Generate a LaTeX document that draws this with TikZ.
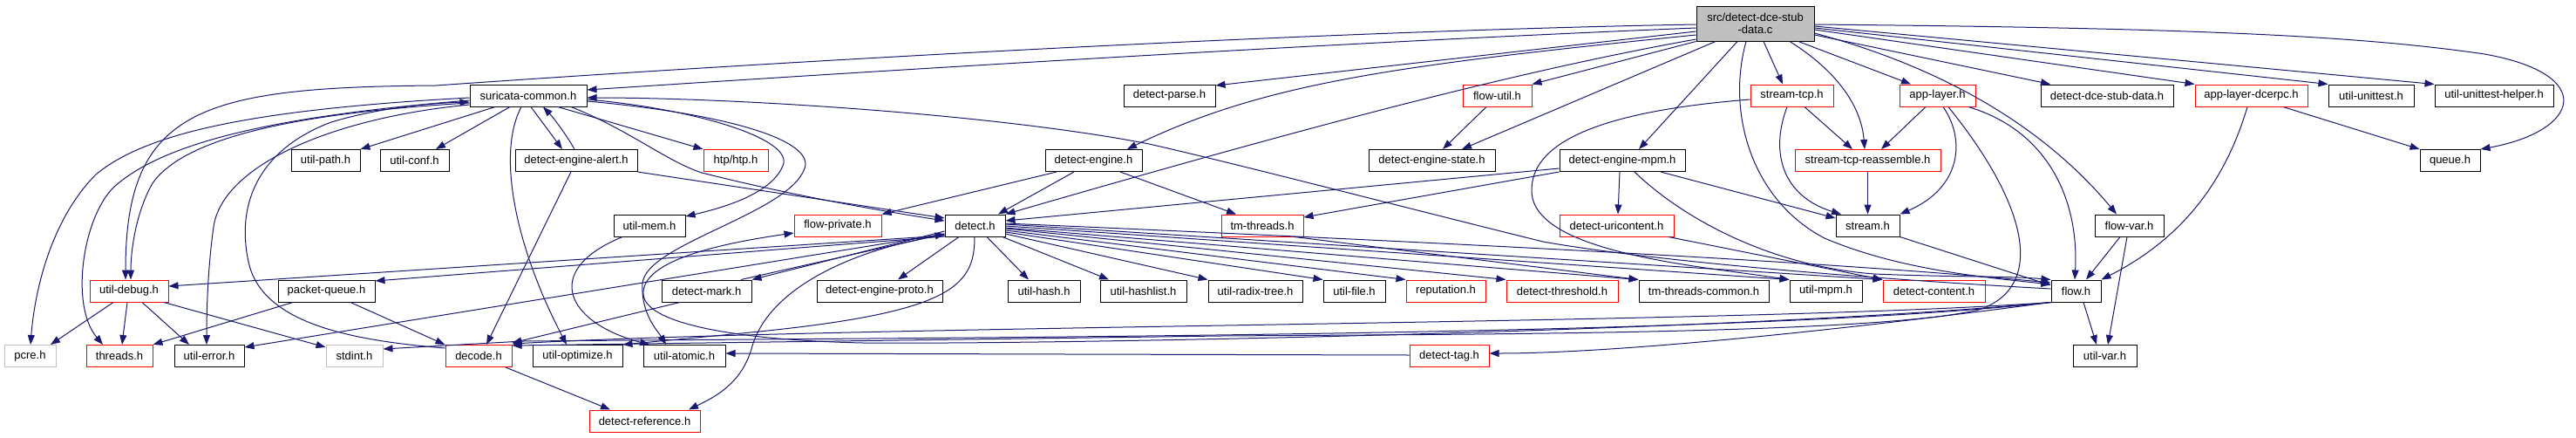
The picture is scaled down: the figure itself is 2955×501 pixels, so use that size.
\documentclass[tikz,border=0pt]{standalone}
\usepackage{fontspec}
\setmainfont{Liberation Sans}
\usetikzlibrary{arrows.meta}
\definecolor{edgec}{HTML}{191970}
\definecolor{gry}{HTML}{BFBFBF}
\newcommand\nodefont{\fontsize{13}{14.5}\selectfont}
\begin{document}
\begin{tikzpicture}[x=1pt,y=-1pt,
  nd/.style={draw=black, line width=1pt, fill=white, minimum height=25pt, inner sep=0pt, font=\nodefont},
  rd/.style={nd, draw=red},
  gy/.style={nd, draw=gry},
  rootnd/.style={nd, fill=gry, minimum height=40pt, align=center},
  e/.style={draw=edgec, line width=1pt, -{Triangle[length=11pt,width=8pt]}}]
\useasboundingbox[fill=white] (0,0) rectangle (2955,501);
% row 0
\node[rootnd, minimum width=135pt] (R) at (2013.5,27) {src/detect-dce-stub\\-data.c};
% row 1
\node[nd, minimum width=134pt] (SC) at (606,109.5) {suricata-common.h};
\node[nd, minimum width=105pt] (DP) at (1341.5,109.5) {detect-parse.h};
\node[rd, minimum width=79pt] (FU) at (1717.5,109.5) {flow-util.h};
\node[rd, minimum width=95pt] (ST) at (2055.5,109.5) {stream-tcp.h};
\node[rd, minimum width=87pt] (AL) at (2222.5,109.5) {app-layer.h};
\node[nd, minimum width=152pt] (DDS) at (2417,109.5) {detect-dce-stub-data.h};
\node[rd, minimum width=129pt] (ALD) at (2582.5,109.5) {app-layer-dcerpc.h};
\node[nd, minimum width=98pt] (UU) at (2720,109.5) {util-unittest.h};
\node[nd, minimum width=136pt] (UUH) at (2861,109.5) {util-unittest-helper.h};
% row 2
\node[nd, minimum width=79pt] (UP) at (373.5,184) {util-path.h};
\node[nd, minimum width=79pt] (UC) at (475.5,184) {util-conf.h};
\node[nd, minimum width=140pt] (DEA) at (661,184) {detect-engine-alert.h};
\node[rd, minimum width=74pt] (HTP) at (844,184) {htp/htp.h};
\node[nd, minimum width=111pt] (DE) at (1254.5,184) {detect-engine.h};
\node[nd, minimum width=145pt] (DES) at (1642.5,184) {detect-engine-state.h};
\node[nd, minimum width=144pt] (DEM) at (1861,184) {detect-engine-mpm.h};
\node[rd, minimum width=167pt] (STR) at (2142.5,184) {stream-tcp-reassemble.h};
\node[nd, minimum width=69pt] (Q) at (2810.5,184) {queue.h};
% row 3
\node[nd, minimum width=82pt] (UM) at (745,258.5) {util-mem.h};
\node[rd, minimum width=100pt] (FP) at (961,258.5) {flow-private.h};
\node[nd, minimum width=69pt] (D) at (1118.5,258.5) {detect.h};
\node[rd, minimum width=94pt] (TM) at (1448,258.5) {tm-threads.h};
\node[rd, minimum width=131pt] (DU) at (1854.5,258.5) {detect-uricontent.h};
\node[nd, minimum width=73pt] (S) at (2142.5,258.5) {stream.h};
\node[nd, minimum width=79pt] (FV) at (2442.5,258.5) {flow-var.h};
% row 4
\node[rd, minimum width=90pt] (UD) at (148,333.5) {util-debug.h};
\node[nd, minimum width=111pt] (PQ) at (374.5,333.5) {packet-queue.h};
\node[nd, minimum width=103pt] (DM) at (810.5,333.5) {detect-mark.h};
\node[nd, minimum width=144pt] (DEP) at (1009,333.5) {detect-engine-proto.h};
\node[nd, minimum width=83pt] (UH) at (1197.5,333.5) {util-hash.h};
\node[nd, minimum width=99pt] (UHL) at (1311.5,333.5) {util-hashlist.h};
\node[nd, minimum width=108pt] (URT) at (1440,333.5) {util-radix-tree.h};
\node[nd, minimum width=71pt] (UF) at (1553.5,333.5) {util-file.h};
\node[rd, minimum width=91pt] (REP) at (1658.5,333.5) {reputation.h};
\node[rd, minimum width=128pt] (DT) at (1792,333.5) {detect-threshold.h};
\node[nd, minimum width=149pt] (TMC) at (1954.5,333.5) {tm-threads-common.h};
\node[nd, minimum width=83pt] (UMP) at (2094.5,333.5) {util-mpm.h};
\node[rd, minimum width=117pt] (DC) at (2218.5,333.5) {detect-content.h};
\node[nd, minimum width=57pt] (F) at (2381.5,333.5) {flow.h};
% row 5
\node[gy, minimum width=59pt] (PCRE) at (34.5,408) {pcre.h};
\node[rd, minimum width=76pt] (TH) at (137,408) {threads.h};
\node[nd, minimum width=80pt] (UE) at (240,408) {util-error.h};
\node[gy, minimum width=65pt] (SI) at (406.5,408) {stdint.h};
\node[rd, minimum width=76pt] (DEC) at (549,408) {decode.h};
\node[nd, minimum width=103pt] (UO) at (662.5,408) {util-optimize.h};
\node[nd, minimum width=94pt] (UA) at (785,408) {util-atomic.h};
\node[rd, minimum width=91pt] (DTG) at (1662.5,408) {detect-tag.h};
\node[nd, minimum width=73pt] (UV) at (2414.5,408) {util-var.h};
% row 6
\node[rd, minimum width=127pt] (DR) at (739.5,482.5) {detect-reference.h};

% ---- root edges
\draw[e] (R.west |- 0,32) .. controls (1500,50) and (950,85) .. (SC.east |- 0,103);
\draw[e] (R.west |- 0,28) .. controls (1500,36) and (900,70) .. (500,98) .. controls (230,100) and (144,125) .. (UD.north -| 144,0);
\draw[e] (R.west |- 0,36) -- (DP.east |- 0,98);
\draw[e] (R.west |- 0,40) .. controls (1600,75) and (1450,95) .. (DE.north -| 1293,0);
\draw[e] (R.south west) -- (FU.north east);
\draw[e] (R.south -| 1968,0) -- (DES.north -| 1677,0);
\draw[e] (R.south -| 1993,0) -- (DEM.north -| 1880,0);
\draw[e] (R.west |- 0,45) .. controls (1720,85) and (1450,160) .. (D.north east);
\draw[e] (R.south -| 2023,0) -- (ST.north -| 2045,0);
\draw[e] (R.south -| 2053,0) .. controls (2105,80) and (2135,120) .. (STR.north -| 2139,0);
\draw[e] (R.south -| 2063,0) -- (AL.north -| 2192,0);
\draw[e] (R.east |- 0,40) -- (DDS.north -| 2352,0);
\draw[e] (R.east |- 0,34) -- (ALD.north west);
\draw[e] (R.east |- 0,32) -- (UU.north west);
\draw[e] (R.east |- 0,30) -- (UUH.north west);
\draw[e] (R.east |- 0,28) .. controls (2500,32) and (2700,40) .. (2850,62) .. controls (2980,85) and (2960,150) .. (Q.north east);
\draw[e] (R.east |- 0,38) .. controls (2220,75) and (2340,140) .. (FV.north -| 2428,0);
\draw[e] (R.south -| 2003,0) .. controls (1980,130) and (2010,230) .. (2093,273) .. controls (2180,310) and (2280,318) .. (F.west |- 0,326);

% ---- suricata-common edges
\draw[e] (SC.south -| 568,0) -- (UP.north east);
\draw[e] (SC.south -| 585,0) -- (UC.north -| 500,0);
\draw[e] (SC.south -| 609,0) -- (DEA.north -| 645,0);
\draw[e] (DEA.north -| 659,0) .. controls (650,155) and (635,135) .. (SC.south -| 623,0);
\draw[e] (SC.south -| 640,0) -- (HTP.north west);
\draw[e] (SC.east |- 0,114) .. controls (800,125) and (912,160) .. (898,190) .. controls (885,222) and (830,238) .. (UM.east |- 0,248);
\draw[e] (SC.east |- 0,116) .. controls (830,130) and (935,160) .. (923,193) .. controls (905,245) and (740,280) .. (737,325) .. controls (735,360) and (755,380) .. (UA.north -| 764,0);
\draw[e] (SC.south -| 598,0) .. controls (570,175) and (590,280) .. (UO.north -| 650,0);
\draw[e] (SC.west |- 0,112) .. controls (300,125) and (170,150) .. (110,200) .. controls (60,250) and (40,330) .. (PCRE.north -| 35,0);
\draw[e] (SC.west |- 0,115) .. controls (330,132) and (190,160) .. (130,215) .. controls (95,250) and (80,350) .. (TH.north -| 118,0);
\draw[e] (SC.west |- 0,118) .. controls (330,130) and (210,160) .. (175,210) .. controls (155,245) and (150,290) .. (UD.north -| 150,0);
\draw[e] (SC.west |- 0,120) .. controls (380,135) and (255,190) .. (245,260) .. controls (238,310) and (237,360) .. (UE.north -| 237,0);
\draw[e] (DEC.west |- 0,399) .. controls (400,390) and (300,370) .. (285,300) .. controls (270,230) and (300,170) .. (380,140) .. controls (440,122) and (500,118) .. (SC.west |- 0,117);
\draw[e] (SC.south -| 655,0) .. controls (720,148) and (765,185) .. (805,198) .. controls (900,222) and (1000,240) .. (D.west |- 0,253);
\draw[e] (F.west |- 0,331) .. controls (2150,320) and (1900,300) .. (1770,277) .. controls (1600,235) and (1420,188) .. (1318,165) .. controls (1150,132) and (850,112) .. (SC.east |- 0,112);

% ---- detect-engine-alert
\draw[e] (DEA.east |- 0,197) -- (D.west |- 0,250);
\draw[e] (DEA.south -| 655,0) -- (DEC.north -| 558,0);

% ---- detect-engine
\draw[e] (DE.south -| 1232,0) -- (D.north -| 1145,0);
\draw[e] (DE.south -| 1285,0) -- (TM.north -| 1418,0);
\draw[e] (DE.south -| 1212,0) -- (FP.north east);

% ---- detect-engine-mpm
\draw[e] (DEM.west |- 0,193) -- (D.east |- 0,253);
\draw[e] (DEM.south west) -- (TM.east |- 0,249);
\draw[e] (DEM.south -| 1858,0) -- (DU.north -| 1856,0);
\draw[e] (DEM.south -| 1905,0) -- (S.west |- 0,250);
\draw[e] (DEM.south -| 1875,0) .. controls (1930,250) and (2030,305) .. (2150,314) .. controls (2250,318) and (2300,316) .. (F.north west);

% ---- misc upper
\draw[e] (FU.south -| 1705,0) -- (DES.north -| 1655,0);
\draw[e] (ST.south -| 2070,0) -- (STR.north -| 2125,0);
\draw[e] (ST.south -| 2050,0) .. controls (2030,175) and (2045,225) .. (S.north -| 2112,0);
\draw[e] (ST.west |- 0,114) .. controls (1830,128) and (1755,165) .. (1757,220) .. controls (1760,290) and (1950,305) .. (UMP.north west);
\draw[e] (AL.south -| 2209,0) -- (STR.north -| 2158,0);
\draw[e] (AL.south -| 2229,0) .. controls (2255,160) and (2250,215) .. (S.north east);
\draw[e] (AL.south -| 2258,0) .. controls (2350,150) and (2385,230) .. (F.north -| 2380,0);
\draw[e] (AL.south -| 2235,0) .. controls (2330,240) and (2345,330) .. (2270,355) .. controls (2150,383) and (1700,383) .. (1400,385) -- (DEC.east |- 0,396);
\draw[e] (STR) -- (S);
\draw[e] (S.south east) -- (F.west |- 0,327);
\draw[e] (ALD.south -| 2619,0) -- (Q.north west);
\draw[e] (ALD.south -| 2578,0) .. controls (2555,200) and (2510,270) .. (F.north east);
\draw[e] (FV.south -| 2432,0) -- (F.north -| 2393,0);
\draw[e] (FV.south -| 2440,0) -- (UV.north -| 2418,0);

% ---- flow.h
\draw[e] (F.south -| 2390,0) -- (UV.north -| 2405,0);
\draw[e] (F.south west) .. controls (2100,380) and (1850,405) .. (DTG.east |- 0,405);
\draw[e] (F.south west) .. controls (2000,372) and (1000,372) .. (DEC.east |- 0,394);
\draw[e] (F.south west) .. controls (2000,385) and (1200,386) .. (600,391) -- (SI.east |- 0,400);
\draw[e] (F.south west) .. controls (2000,380) and (1200,395) .. (990,393) .. controls (850,390) and (742,372) .. (738,338) .. controls (735,300) and (820,280) .. (FP.west |- 0,267);
\draw[e] (DTG.west |- 0,407) -- (UA.east |- 0,405);

% ---- detect.h right side
\draw[e] (D.south -| 1100,0) -- (DEP.north -| 1030,0);
\draw[e] (D.south -| 1132,0) -- (UH.north -| 1180,0);
\draw[e] (D.south -| 1150,0) -- (UHL.north -| 1272,0);
\draw[e] (D.east |- 0,268) -- (URT.north west);
\draw[e] (D.east |- 0,266) -- (UF.north west);
\draw[e] (D.east |- 0,264) -- (REP.north west);
\draw[e] (D.east |- 0,262) -- (DT.north west);
\draw[e] (D.east |- 0,261) -- (TMC.north west);
\draw[e] (D.east |- 0,259) -- (UMP.north west);
\draw[e] (D.east |- 0,257) -- (DC.north west);
\draw[e] (D.east |- 0,256) .. controls (1700,280) and (2100,300) .. (F.west |- 0,324);
\draw[e] (TM.south -| 1485,0) -- (TMC.north west);
\draw[e] (DU.south -| 1914,0) -- (DC.north west);

% ---- detect.h left side
\draw[e] (D.west |- 0,270) -- (UD.east |- 0,328);
\draw[e] (D.west |- 0,271) -- (PQ.east |- 0,322);
\draw[e] (D.west |- 0,268) -- (UE.east |- 0,398);
\draw[e] (D.west |- 0,265) -- (DM.north east);
\draw[e] (DM.north -| 850,0) -- (D.west |- 0,268);
\draw[e] (DM.south -| 780,0) -- (DEC.east |- 0,393);
\draw[e] (D.south -| 1118,0) .. controls (1118,330) and (1090,360) .. (840,383) -- (UO.east |- 0,395);
\draw[e] (D.west |- 0,269) .. controls (980,285) and (880,330) .. (862,400) .. controls (850,440) and (820,455) .. (DR.north -| 790,0);

% ---- lower left
\draw[e] (PQ.south -| 336,0) -- (TH.north east);
\draw[e] (PQ.south -| 402,0) -- (DEC.north west);
\draw[e] (UD.south -| 130,0) -- (PCRE.north -| 58,0);
\draw[e] (UD.south -| 146,0) -- (TH.north -| 140,0);
\draw[e] (UD.south -| 163,0) -- (UE.north -| 217,0);
\draw[e] (UD.south -| 188,0) -- (SI.west |- 0,398);
\draw[e] (UM.south -| 714,0) .. controls (620,310) and (650,370) .. (UA.north -| 745,0);
\draw[e] (DEC.south -| 580,0) -- (DR.north -| 700,0);
\end{tikzpicture}
\end{document}
